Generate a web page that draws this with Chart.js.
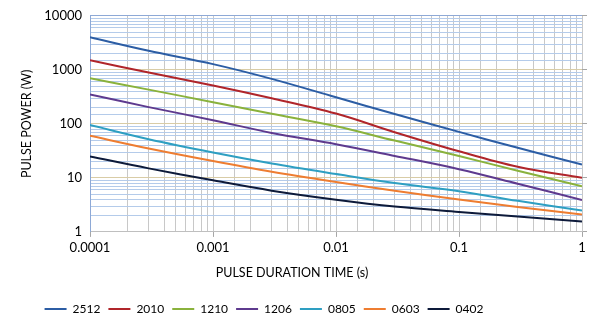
<!DOCTYPE html>
<html>
<head>
<meta charset="utf-8">
<script src="https://cdn.jsdelivr.net/npm/chart.js@4.4.1/dist/chart.umd.min.js"></script>
<style>
  html, body { margin: 0; padding: 0; background: #ffffff; }
  #wrap { width: 601px; height: 325px; position: relative; }
</style>
</head>
<body>
<div id="wrap"><canvas id="c" width="601" height="325"></canvas></div>
<script>
// ---- data ----
const durations = [0.0001, 0.0003, 0.001, 0.003, 0.01, 0.03, 0.1, 0.3, 1];
const seriesNames = ["2512", "2010", "1210", "1206", "0805", "0603", "0402"];
const p2512 = [4000, 2250, 1275, 680, 310, 152, 71, 36, 17.6];
const p2010 = [1500, 890, 515, 298, 155, 70, 31, 16, 10];
const p1210 = [700, 430, 252, 154, 90, 49, 25.5, 13.5, 7];
const p1206 = [350, 204, 117, 68, 42, 25.5, 14.5, 7.8, 3.9];
const p0805 = [95, 52, 29.5, 18.5, 11.8, 8, 5.65, 3.76, 2.5];
const p0603 = [60, 35, 20.5, 13, 8.4, 5.8, 3.97, 2.9, 2.1];
const p0402 = [25, 15, 9, 5.8, 3.95, 2.95, 2.34, 1.92, 1.55];
const yTickLabels = ["1", "10", "100", "1000", "10000"];
const xTickLabels = ["0.0001", "0.001", "0.01", "0.1", "1"];
const xTitle = "PULSE DURATION TIME (s)";
const yTitle = "PULSE POWER (W)";

const seriesValues = [p2512, p2010, p1210, p1206, p0805, p0603, p0402];
const colors = ["#2C5DA4", "#B0252A", "#8AB23C", "#5E3A8E", "#2E9FC2", "#EE7D31", "#0D1A3A"];

const FONT = "Lato, 'Liberation Sans', sans-serif";

function isDecade(v) {
  const l = Math.log10(v);
  return Math.abs(l - Math.round(l)) < 1e-9;
}

const datasets = seriesNames.map((name, i) => ({
  label: name,
  data: durations.map((d, k) => ({ x: d, y: seriesValues[i][k] })),
  borderColor: colors[i],
  backgroundColor: colors[i],
  borderWidth: 2,
  pointRadius: 0,
  pointHoverRadius: 0,
  tension: 0.35,
  fill: false
}));

// shifts the bottom title and legend to sit where the reference centres them
const centerShift = {
  id: 'centerShift',
  afterLayout(chart) {
    const shift = (box, center) => {
      if (!box) return;
      const d = center - (box.left + box.right) / 2;
      box.left += d; box.right += d;
    };
    shift(chart.titleBlock, 292);
    shift(chart.legend, 264);
  }
};

new Chart(document.getElementById('c'), {
  type: 'line',
  data: { datasets },
  plugins: [centerShift],
  options: {
    responsive: false,
    animation: false,
    events: [],
    layout: { padding: { top: 15, right: 14, left: 19, bottom: 0 } },
    plugins: {
      tooltip: { enabled: false },
      title: {
        display: true,
        text: xTitle,
        position: 'bottom',
        weight: 500,
        color: '#000',
        font: { family: FONT, size: 12.5, weight: 'normal', lineHeight: 1.2 },
        padding: { top: 6.5, bottom: 15 }
      },
      legend: {
        position: 'bottom',
        labels: {
          boxWidth: 22,
          boxHeight: 2,
          padding: 8,
          color: '#000',
          font: { family: FONT, size: 12 },
          generateLabels(chart) {
            const items = Chart.defaults.plugins.legend.labels.generateLabels(chart);
            items.forEach(it => { it.lineWidth = 0; });
            return items;
          }
        }
      }
    },
    scales: {
      x: {
        type: 'logarithmic',
        min: 0.0001,
        max: 1,
        border: { color: '#BFBFBF', width: 1 },
        grid: {
          color: '#C8C8C8',
          lineWidth: 1,
          drawTicks: true,
          tickLength: 5,
          tickColor: ctx => (ctx.tick && isDecade(ctx.tick.value)) ? '#A6A6A6' : 'rgba(0,0,0,0)'
        },
        ticks: {
          autoSkip: false,
          maxRotation: 0,
          padding: 3,
          color: '#000',
          font: { family: FONT, size: 13 },
          callback: function (v) {
            if (!isDecade(v)) return '';
            const idx = Math.round(Math.log10(v)) + 4;
            return xTickLabels[idx];
          }
        },
        title: { display: false }
      },
      y: {
        type: 'logarithmic',
        min: 1,
        max: 10000,
        position: 'left',
        border: { color: '#8EA9D6', width: 1 },
        grid: {
          drawTicks: false,
          lineWidth: 1,
          color: ctx => {
            if (!ctx.tick) return '#B4CBEA';
            const v = ctx.tick.value;
            if (v >= 10000) return '#8EA9D6';
            return isDecade(v) ? '#D9CCA6' : '#B4CBEA';
          }
        },
        ticks: {
          autoSkip: false,
          padding: 8,
          color: '#000',
          font: { family: FONT, size: 13 },
          callback: function (v) {
            if (!isDecade(v)) return '';
            const idx = Math.round(Math.log10(v));
            return yTickLabels[idx];
          }
        },
        title: {
          display: true,
          text: yTitle,
          color: '#000',
          font: { family: FONT, size: 12.5 },
          padding: { top: 0, bottom: 10 }
        },
        afterFit(scale) { scale.width = 71; }
      },
      y2: {
        type: 'logarithmic',
        min: 1,
        max: 10000,
        position: 'right',
        border: { display: false },
        grid: {
          drawOnChartArea: false,
          drawTicks: true,
          tickLength: 5,
          tickColor: ctx => (ctx.tick && isDecade(ctx.tick.value)) ? '#A6A6A6' : 'rgba(0,0,0,0)'
        },
        ticks: { display: false },
        afterFit(scale) { scale.width = 5; }
      }
    }
  }
});
</script>
</body>
</html>
